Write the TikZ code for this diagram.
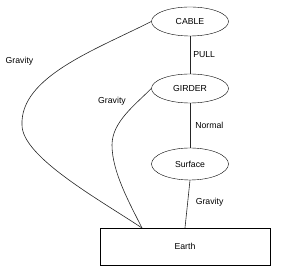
\documentclass[tikz,border=0pt]{standalone}
\usepackage{fontspec}
\setmainfont{Liberation Sans}
\usetikzlibrary{positioning,shapes.geometric}
\begin{document}
\begin{tikzpicture}[x=1pt, y=1pt,
    body/.style={draw, ellipse, minimum width=77pt, minimum height=29pt, inner sep=0pt},
    ground/.style={draw, rectangle, minimum width=170pt, minimum height=37pt},
    force/.style={draw=black!85, line width=0.6pt},
    lbl/.style={font=\fontsize{8.7}{10}\selectfont, inner sep=1pt}]
  \useasboundingbox (0,0) rectangle (302,272);
  \tikzset{every node/.append style={font=\fontsize{8.7}{10}\selectfont}}

  % Bodies
  \node[body] (cable) at (190,250.5) {CABLE};
  \node[body] (girder) at (190,183.5) {GIRDER};
  \node[body, minimum height=32pt] (surface) at (190,108) {Surface};
  \node[ground] (earth) at (185,25.5) {Earth};
  \coordinate (hit) at (142,44);

  % Straight connections
  \draw[force] (cable.south) -- (girder.north) node[midway, right, lbl, xshift=2pt] {PULL};
  \draw[force] (girder.south) -- (surface.north) node[midway, right, lbl, xshift=4pt] {Normal};
  \draw[force] (surface.south) -- (earth.north) node[midway, right, lbl, xshift=7pt, yshift=2pt] {Gravity};

  % Curved gravity lines
  \draw[force] (cable.west) .. controls (95,222) and (20,195) .. (22,147)
    .. controls (22,115) and (100,72) .. (hit);
  \draw[force] (girder.west) .. controls (135,167) and (112,150) .. (112,127)
    .. controls (112,100) and (130,68) .. (hit);
  \node[lbl] (g1) at (19.5,211) {Gravity};
  \node[lbl] (g2) at (112,171) {Gravity};
\end{tikzpicture}
\end{document}
